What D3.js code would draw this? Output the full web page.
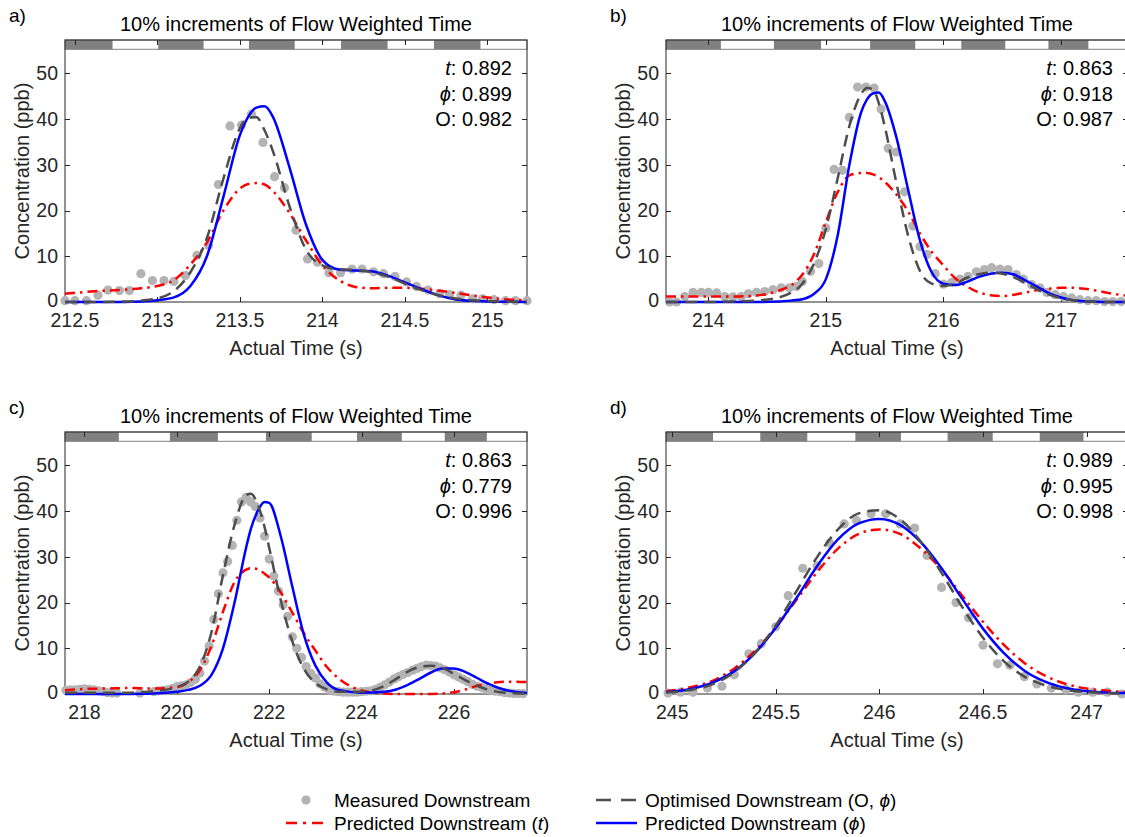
<!DOCTYPE html>
<html>
<head>
<meta charset="utf-8">
<script src="https://cdn.jsdelivr.net/npm/d3@7"></script>
<style>
  body { margin: 0; background: #fff; }
  svg text { font-family: "Liberation Sans", Arial, Helvetica, sans-serif; }
</style>
</head>
<body>
<svg id="chart" width="1125" height="837"></svg>
<script>
// ---------- Panel a ----------
const domainA = [212.44, 215.24];
const ticksA = [212.5, 213, 213.5, 214, 214.5, 215];
const flowA = [212.44, 212.728, 213.005, 213.28, 213.555, 213.832, 214.113, 214.395, 214.676, 214.958, 215.24];
const measTimeA = [212.44, 212.50, 212.57, 212.64, 212.70, 212.77, 212.83, 212.90, 212.97, 213.04, 213.10, 213.17, 213.24, 213.31, 213.37, 213.44, 213.51, 213.57, 213.64, 213.71, 213.77, 213.84, 213.91, 213.97, 214.04, 214.11, 214.18, 214.24, 214.31, 214.37, 214.44, 214.51, 214.57, 214.64, 214.71, 214.77, 214.84, 214.91, 214.97, 215.04, 215.11, 215.17, 215.24];
const measConcA = [0.3, 0.3, 0.3, 1.5, 2.6, 2.5, 2.5, 6.2, 4.7, 4.7, 4.5, 5.8, 10.2, 12.4, 25.7, 38.5, 38.7, 41.1, 34.9, 27.4, 25.0, 15.7, 9.4, 8.7, 6.4, 6.4, 7.2, 7.2, 6.6, 6.2, 5.6, 4.4, 3.4, 2.6, 1.8, 1.6, 1.5, 0.7, 0.7, 0.5, 0.3, 0.3, 0.3];
const gridA = [212.44, 212.6, 212.8, 212.9, 213.0, 213.1, 213.2, 213.3, 213.4, 213.5, 213.55, 213.6, 213.65, 213.7, 213.8, 213.9, 214.0, 214.1, 214.2, 214.3, 214.4, 214.5, 214.6, 214.7, 214.8, 214.9, 215.0, 215.1, 215.24];
const optA    = [0, 0, 0.1, 0.3, 0.8, 2.4, 6.5, 14, 27, 38, 40.3, 40.4, 37.5, 33, 21, 11.5, 8.0, 7.1, 7.0, 6.5, 5.5, 4.0, 2.6, 1.5, 0.8, 0.4, 0.2, 0.1, 0];
const predTA  = [1.8, 2.3, 2.7, 3.0, 3.5, 4.8, 8.2, 13, 20, 24.8, 25.8, 26, 25.7, 24.3, 19.5, 13.5, 8, 4.8, 3.3, 3.0, 3.1, 3.1, 2.9, 2.5, 2.0, 1.5, 1.0, 0.6, 0.4];
const predPhiA = [0, 0, 0, 0.1, 0.4, 1.0, 3.5, 10, 23, 36.5, 40.5, 42.5, 42.8, 40.5, 29.5, 17, 9.2, 7.1, 6.9, 6.7, 5.7, 4.3, 2.8, 1.5, 0.6, 0.25, 0.1, 0.05, 0];

// ---------- Panel b ----------
const domainB = [213.64, 217.57];
const ticksB = [214, 215, 216, 217];
const flowB = [213.64, 214.107, 214.558, 214.959, 215.376, 215.76, 216.152, 216.526, 216.893, 217.233, 217.57];
const measTimeB = [213.67, 213.73, 213.80, 213.87, 213.94, 214.00, 214.07, 214.14, 214.21, 214.28, 214.34, 214.41, 214.48, 214.55, 214.62, 214.69, 214.75, 214.80, 214.87, 214.94, 215.00, 215.07, 215.14, 215.20, 215.27, 215.34, 215.41, 215.47, 215.53, 215.60, 215.67, 215.74, 215.80, 215.86, 215.93, 216.00, 216.07, 216.14, 216.21, 216.28, 216.35, 216.41, 216.48, 216.55, 216.62, 216.68, 216.75, 216.82, 216.88, 216.95, 217.02, 217.09, 217.16, 217.23, 217.30, 217.37, 217.44, 217.51];
const measConcB = [0, 0, 1.2, 2.1, 2.1, 2.1, 2.0, 1.2, 1.1, 1.2, 1.8, 2.1, 2.3, 2.7, 3.1, 3.1, 3.4, 4.5, 6.7, 8.4, 16.2, 29.0, 28.8, 40.4, 47.0, 47.0, 46.8, 42.2, 33.6, 32.8, 24.1, 16.6, 12.1, 10.4, 6.2, 3.9, 4.3, 5.0, 5.6, 6.6, 7.1, 7.5, 7.2, 7.1, 6.0, 5.0, 3.8, 3.1, 2.1, 1.6, 1.2, 0.9, 0.5, 0.3, 0.3, 0.1, 0.1, 0.1];
const gridB = [213.64, 213.8, 214.0, 214.2, 214.4, 214.6, 214.7, 214.8, 214.9, 215.0, 215.1, 215.2, 215.3, 215.35, 215.4, 215.45, 215.5, 215.6, 215.7, 215.8, 215.9, 216.0, 216.1, 216.2, 216.3, 216.4, 216.5, 216.6, 216.7, 216.8, 216.9, 217.0, 217.1, 217.2, 217.3, 217.4, 217.57];
const optB    = [0, 0, 0, 0.1, 0.3, 1.0, 2.0, 4.0, 8.5, 16, 27, 38.5, 45.5, 46.8, 46.5, 43.5, 38.5, 26, 14.5, 6.8, 4.0, 3.5, 4.0, 5.3, 6.1, 6.4, 6.2, 5.4, 4.1, 2.7, 1.6, 0.8, 0.4, 0.15, 0.05, 0, 0];
const predTB  = [1.2, 1.2, 1.2, 1.2, 1.4, 2.5, 3.6, 6, 10.5, 17.5, 24, 27.7, 28.2, 28.2, 27.9, 27.3, 26.3, 23.5, 19.8, 15, 11, 8, 5.2, 3.4, 2.1, 1.5, 1.3, 1.6, 2.1, 2.6, 2.9, 3.1, 3.1, 2.9, 2.5, 2.0, 1.3];
const predPhiB = [0, 0, 0, 0, 0, 0.1, 0.3, 0.6, 1.8, 5, 14.5, 30, 41.5, 44.3, 45.6, 45.8, 44, 36, 24.5, 13.5, 6.5, 4.0, 3.7, 4.4, 5.5, 6.2, 6.4, 6.0, 4.7, 3.3, 1.9, 1.0, 0.4, 0.15, 0.05, 0, 0];

// ---------- Panel c ----------
const domainC = [217.58, 227.58];
const ticksC = [218, 220, 222, 224, 226];
const flowC = [217.58, 218.745, 219.85, 220.89, 221.93, 222.92, 223.9, 224.87, 225.80, 226.71, 227.58];
const measTimeC = [217.6, 217.7, 217.8, 217.9, 218.0, 218.1, 218.2, 218.3, 218.4, 218.5, 218.6, 218.7, 219.2, 219.5, 219.6, 219.7, 219.8, 219.9, 220.0, 220.1, 220.2, 220.3, 220.4, 220.5, 220.6, 220.7, 220.8, 220.9, 221.0, 221.1, 221.2, 221.3, 221.4, 221.5, 221.6, 221.7, 221.8, 221.9, 222.0, 222.1, 222.2, 222.3, 222.4, 222.5, 222.6, 222.7, 222.8, 222.9, 223.0, 223.1, 223.2, 223.3, 223.4, 223.5, 223.6, 223.7, 223.8, 223.9, 224.0, 224.1, 224.2, 224.3, 224.4, 224.5, 224.6, 224.7, 224.8, 224.9, 225.0, 225.1, 225.2, 225.3, 225.4, 225.5, 225.6, 225.7, 225.8, 225.9, 226.0, 226.1, 226.2, 226.3, 226.4, 226.5, 226.6, 226.7, 226.8, 226.9, 227.0, 227.1, 227.2, 227.3, 227.4, 227.5];
const measConcC = [0.8, 0.9, 0.9, 1.0, 1.1, 1.0, 0.9, 0.7, 0.5, 0.3, 0.2, 0.2, 0.2, 0.5, 0.7, 0.8, 0.9, 1.2, 1.6, 1.8, 2.0, 2.5, 3.2, 4.6, 7.2, 10.5, 16.3, 21.9, 26.5, 29.0, 32.5, 38.0, 42.0, 43.0, 42.0, 41.0, 38.5, 34.5, 29.5, 25.8, 22.5, 19.5, 17.0, 12.5, 10.0, 8.0, 6.0, 4.5, 3.5, 2.2, 1.5, 0.9, 0.6, 0.5, 0.4, 0.4, 0.4, 0.4, 0.5, 0.6, 0.7, 1.0, 1.5, 2.0, 2.6, 3.3, 3.8, 4.3, 4.7, 5.2, 5.6, 6.0, 6.3, 6.2, 6.1, 5.7, 5.3, 4.8, 4.2, 3.7, 3.2, 2.7, 2.1, 1.7, 1.4, 1.0, 0.8, 0.6, 0.5, 0.3, 0.2, 0.1, 0.1, 0.1];
const gridC = [217.58, 218.0, 218.5, 219.0, 219.5, 220.0, 220.25, 220.5, 220.75, 221.0, 221.25, 221.5, 221.6, 221.75, 221.9, 222.0, 222.25, 222.5, 222.75, 223.0, 223.25, 223.5, 224.0, 224.5, 224.75, 225.0, 225.25, 225.5, 225.75, 226.0, 226.25, 226.5, 226.75, 227.0, 227.25, 227.58];
const optC    = [0.3, 0.3, 0.3, 0.3, 0.6, 1.5, 2.7, 6, 13.5, 26, 37, 43.5, 43.8, 41.5, 36.5, 32, 20.5, 11.5, 5.5, 2.4, 1.0, 0.5, 0.5, 1.8, 3.3, 4.9, 5.9, 6.2, 5.7, 4.4, 3.0, 1.8, 0.9, 0.4, 0.2, 0.1];
const predTC  = [0.8, 1.1, 1.2, 1.3, 1.2, 1.5, 2.6, 5.2, 10.5, 18, 24.5, 27.2, 27.5, 27.3, 26.3, 25.5, 22.2, 17.8, 13.3, 9.5, 5.9, 3.4, 0.8, 0.1, 0, 0, 0, 0, 0.1, 0.4, 1.0, 1.8, 2.3, 2.6, 2.7, 2.6];
const predPhiC = [0, 0, 0, 0, 0.1, 0.5, 0.9, 1.8, 4.2, 10, 20, 32, 36, 40, 42, 41.8, 34.5, 23.5, 13, 6.2, 2.5, 0.9, 0.3, 0.5, 1.0, 2.0, 3.3, 4.7, 5.6, 5.6, 4.8, 3.5, 2.2, 1.2, 0.6, 0.2];

// ---------- Panel d ----------
const domainD = [244.97, 247.2];
const ticksD = [245, 245.5, 246, 246.5, 247];
const flowD = [244.97, 245.197, 245.425, 245.652, 245.884, 246.104, 246.329, 246.547, 246.774, 246.985, 247.2];
const measTimeD = [244.98, 245.04, 245.10, 245.17, 245.24, 245.30, 245.37, 245.43, 245.50, 245.56, 245.63, 245.70, 245.76, 245.83, 245.89, 245.96, 246.03, 246.10, 246.17, 246.23, 246.30, 246.37, 246.43, 246.50, 246.57, 246.63, 246.70, 246.76, 246.83, 246.90, 246.96, 247.03, 247.10, 247.17];
const measConcD = [0.2, 0.4, 0.4, 1.3, 1.7, 4.2, 8.8, 11.0, 14.7, 21.5, 27.5, 28.0, 33.0, 37.2, 37.9, 39.4, 39.4, 37.2, 36.3, 30.3, 23.3, 20.0, 16.7, 10.7, 6.6, 6.3, 3.8, 2.2, 1.3, 1.0, 0.4, 0.4, 0.4, 0.0];
const gridD = [244.97, 245.1, 245.2, 245.3, 245.4, 245.5, 245.6, 245.7, 245.8, 245.9, 246.0, 246.1, 246.2, 246.3, 246.4, 246.5, 246.6, 246.7, 246.8, 246.9, 247.0, 247.1, 247.2];
const optD    = [0.3, 1.0, 2.2, 4.8, 9.0, 15, 22.5, 30, 36, 39.5, 40.2, 38.2, 33.3, 26.5, 19, 12.3, 7.2, 3.8, 1.9, 0.9, 0.4, 0.2, 0.1];
const predTD  = [0.6, 1.6, 3.0, 5.6, 9.5, 14.6, 20.6, 26.7, 31.8, 35, 36.0, 35, 31.8, 27.2, 21.5, 15.8, 10.8, 6.8, 4.0, 2.2, 1.2, 0.7, 0.4];
const predPhiD = [0.4, 1.2, 2.6, 5.0, 9.0, 14.5, 21, 28, 33.8, 37.3, 38.3, 37.0, 33.2, 27.5, 20.8, 14.3, 9.0, 5.1, 2.7, 1.3, 0.6, 0.3, 0.2];

// ---------- Shared ----------
const panelLetters = ['a)', 'b)', 'c)', 'd)'];
const statT = ['0.892', '0.863', '0.863', '0.989'];
const statPhi = ['0.899', '0.918', '0.779', '0.995'];
const statO = ['0.982', '0.987', '0.996', '0.998'];
const yTicks = [0, 10, 20, 30, 40, 50];
const yMax = 57.3;
const titleText = '10% increments of Flow Weighted Time';
const legendLabels = ['Measured Downstream', 'Predicted Downstream', 'Optimised Downstream (O, ', 'Predicted Downstream ('];

const panels = [
  { domain: domainA, ticks: ticksA, flow: flowA, mt: measTimeA, mc: measConcA, grid: gridA, opt: optA, pt: predTA, pp: predPhiA },
  { domain: domainB, ticks: ticksB, flow: flowB, mt: measTimeB, mc: measConcB, grid: gridB, opt: optB, pt: predTB, pp: predPhiB },
  { domain: domainC, ticks: ticksC, flow: flowC, mt: measTimeC, mc: measConcC, grid: gridC, opt: optC, pt: predTC, pp: predPhiC },
  { domain: domainD, ticks: ticksD, flow: flowD, mt: measTimeD, mc: measConcD, grid: gridD, opt: optD, pt: predTD, pp: predPhiD }
];

// ---------- Layout & style ----------
const colX = [[65, 527], [666, 1128]];
const rowY = [[40, 302], [432, 694]];
const letterX = [9, 610];
const axisColor = '#262626';
const barGray = '#808080';
const dotColor = '#b3b3b3';
const optColor = '#4d4d4d';
const redColor = '#ff0000';
const blueColor = '#0000ff';
const lw = 2.5;
const optDash = '12,7';
const redDash = '10,5,2.5,5';
const tickLen = 5;
const barH = 9.3;
const tickFont = 19.5;

const svg = d3.select('#chart');

panels.forEach((p, i) => {
  const [x0, x1] = colX[i % 2];
  const [top, bottom] = rowY[Math.floor(i / 2)];
  const x = d3.scaleLinear().domain(p.domain).range([x0, x1]);
  const y = d3.scaleLinear().domain([0, yMax]).range([bottom, top]);
  const g = svg.append('g');

  // flow-weighted time strip along the top of the axes
  g.append('rect').attr('x', x0).attr('y', top).attr('width', x1 - x0).attr('height', barH)
    .attr('fill', '#fff').attr('stroke', barGray).attr('stroke-width', 1);
  for (let k = 0; k < p.flow.length - 1; k += 2) {
    g.append('rect')
      .attr('x', x(p.flow[k])).attr('y', top)
      .attr('width', x(p.flow[k + 1]) - x(p.flow[k])).attr('height', barH)
      .attr('fill', barGray);
  }

  // axes box
  g.append('rect').attr('x', x0).attr('y', top).attr('width', x1 - x0).attr('height', bottom - top)
    .attr('fill', 'none').attr('stroke', axisColor).attr('stroke-width', 1);

  // x ticks (inward, top and bottom) with labels
  p.ticks.forEach(t => {
    const xx = Math.round(x(t)) + 0.5;
    g.append('line').attr('x1', xx).attr('x2', xx).attr('y1', bottom).attr('y2', bottom - tickLen)
      .attr('stroke', axisColor);
    g.append('line').attr('x1', xx).attr('x2', xx).attr('y1', top).attr('y2', top + tickLen)
      .attr('stroke', axisColor);
    g.append('text').attr('x', x(t)).attr('y', bottom + 25).attr('text-anchor', 'middle')
      .attr('font-size', tickFont).attr('fill', axisColor).text(d3.format('~g')(t));
  });

  // y ticks (inward, left and right) with labels
  yTicks.forEach(t => {
    const yy = Math.round(y(t)) + 0.5;
    g.append('line').attr('x1', x0).attr('x2', x0 + tickLen).attr('y1', yy).attr('y2', yy)
      .attr('stroke', axisColor);
    g.append('line').attr('x1', x1).attr('x2', x1 - tickLen).attr('y1', yy).attr('y2', yy)
      .attr('stroke', axisColor);
    g.append('text').attr('x', x0 - 7).attr('y', y(t) - (t === 0 ? 1.5 : 0)).attr('dy', '0.35em').attr('text-anchor', 'end')
      .attr('font-size', tickFont).attr('fill', axisColor).text(t);
  });

  // axis labels and title
  g.append('text').attr('x', (x0 + x1) / 2).attr('y', bottom + 53).attr('text-anchor', 'middle')
    .attr('font-size', 20).attr('fill', axisColor).text('Actual Time (s)');
  g.append('text').attr('transform', `translate(${x0 - 36},${(top + bottom) / 2}) rotate(-90)`)
    .attr('text-anchor', 'middle').attr('font-size', 20).attr('fill', axisColor).text('Concentration (ppb)');
  g.append('text').attr('x', (x0 + x1) / 2).attr('y', top - 9).attr('text-anchor', 'middle')
    .attr('font-size', 20).attr('fill', '#000').text(titleText);
  g.append('text').attr('x', letterX[i % 2]).attr('y', top - 18)
    .attr('font-size', 19).attr('fill', '#000').text(panelLetters[i]);

  // measured points
  g.append('g').selectAll('circle').data(p.mt.map((t, k) => [t, p.mc[k]])).join('circle')
    .attr('cx', d => x(d[0])).attr('cy', d => y(d[1])).attr('r', 4.6).attr('fill', dotColor);

  const line = d3.line().x(d => x(d[0])).y(d => y(d[1])).curve(d3.curveMonotoneX);
  const series = arr => p.grid.map((t, k) => [t, arr[k]]);

  g.append('path').attr('d', line(series(p.pt))).attr('fill', 'none')
    .attr('stroke', redColor).attr('stroke-width', lw).attr('stroke-dasharray', redDash);
  g.append('path').attr('d', line(series(p.pp))).attr('fill', 'none')
    .attr('stroke', blueColor).attr('stroke-width', lw);
  g.append('path').attr('d', line(series(p.opt))).attr('fill', 'none')
    .attr('stroke', optColor).attr('stroke-width', lw).attr('stroke-dasharray', optDash);

  // fit statistics
  const sx = x1 - 15;
  const rows = [['t', statT[i]], ['ϕ', statPhi[i]], ['O', statO[i]]];
  rows.forEach((r, k) => {
    const txt = g.append('text').attr('x', sx).attr('y', top + 35 + k * 25.5)
      .attr('text-anchor', 'end').attr('font-size', 20).attr('fill', '#000');
    if (k < 2) {
      txt.append('tspan').attr('font-style', 'italic').text(r[0]);
      txt.append('tspan').text(': ' + r[1]);
    } else {
      txt.text(r[0] + ': ' + r[1]);
    }
  });
});

// ---------- Legend ----------
const lg = svg.append('g').attr('font-size', 19).attr('fill', '#000');
const r1 = 800, r2 = 823;
lg.append('circle').attr('cx', 306).attr('cy', r1).attr('r', 4.6).attr('fill', dotColor);
lg.append('text').attr('x', 334).attr('y', r1).attr('dy', '0.35em').text(legendLabels[0]);

lg.append('line').attr('x1', 286).attr('x2', 324).attr('y1', r2).attr('y2', r2)
  .attr('stroke', redColor).attr('stroke-width', lw).attr('stroke-dasharray', '11,6,3,6');
const tl = lg.append('text').attr('x', 334).attr('y', r2).attr('dy', '0.35em');
tl.append('tspan').text(legendLabels[1] + ' (');
tl.append('tspan').attr('font-style', 'italic').text('t');
tl.append('tspan').text(')');

lg.append('line').attr('x1', 596).attr('x2', 637).attr('y1', r1).attr('y2', r1)
  .attr('stroke', optColor).attr('stroke-width', lw).attr('stroke-dasharray', '15,10');
const to = lg.append('text').attr('x', 645).attr('y', r1).attr('dy', '0.35em');
to.append('tspan').text(legendLabels[2]);
to.append('tspan').attr('font-style', 'italic').text('ϕ');
to.append('tspan').text(')');

lg.append('line').attr('x1', 596).attr('x2', 637).attr('y1', r2).attr('y2', r2)
  .attr('stroke', blueColor).attr('stroke-width', lw);
const tp = lg.append('text').attr('x', 645).attr('y', r2).attr('dy', '0.35em');
tp.append('tspan').text(legendLabels[3]);
tp.append('tspan').attr('font-style', 'italic').text('ϕ');
tp.append('tspan').text(')');
</script>
</body>
</html>
